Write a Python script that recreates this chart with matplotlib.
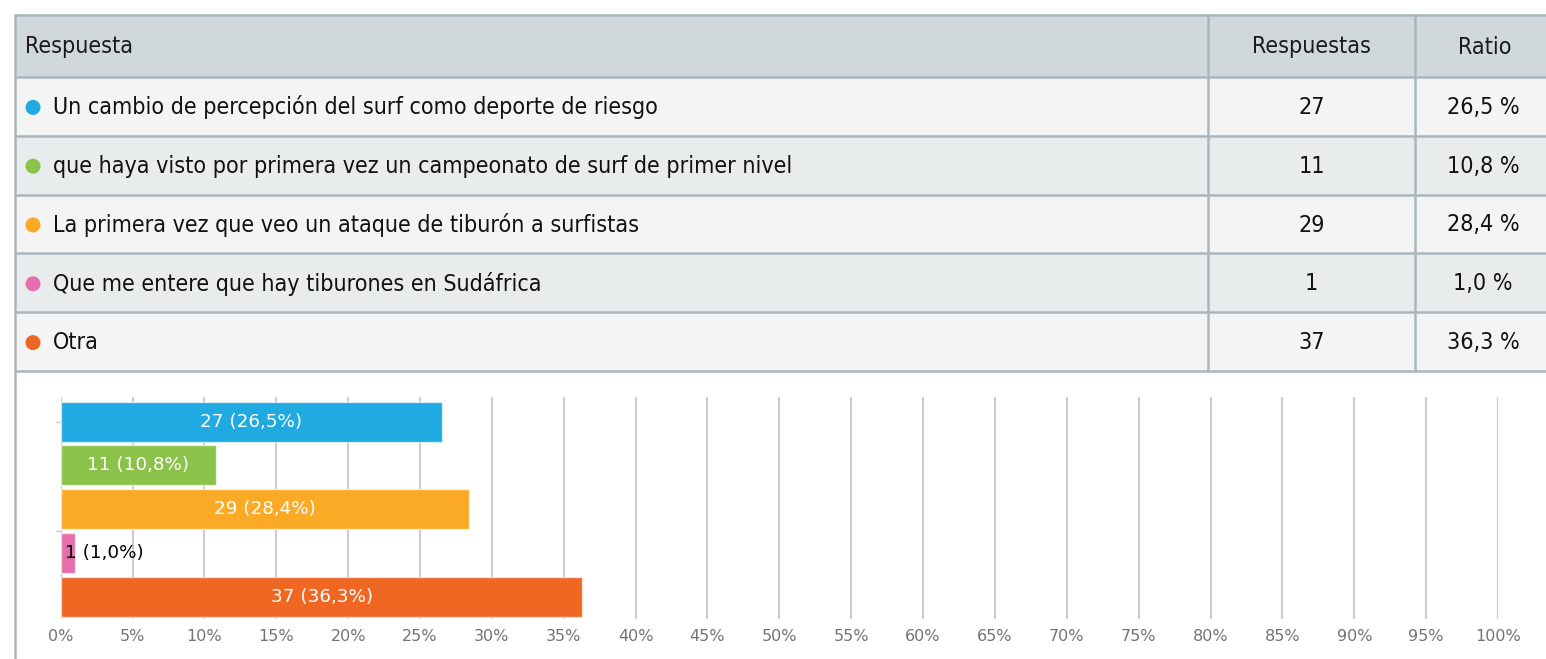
import matplotlib
matplotlib.use("Agg")
import matplotlib.pyplot as plt
from matplotlib import font_manager
from matplotlib.patches import Rectangle, Circle

# data
answers = [
    "Un cambio de percepción del surf como deporte de riesgo",
    "que haya visto por primera vez un campeonato de surf de primer nivel",
    "La primera vez que veo un ataque de tiburón a surfistas",
    "Que me entere que hay tiburones en Sudáfrica",
    "Otra",
]
counts = [27, 11, 29, 1, 37]
ratios = [26.5, 10.8, 28.4, 1.0, 36.3]
colors = ["#1FAAE1", "#8BC34A", "#FBAA25", "#E56EAD", "#F06724"]
headers = ["Respuesta", "Respuestas", "Ratio"]


def pick_narrow_font():
    # look for a condensed / narrow face, the table uses one
    wanted = ["liberationsansnarrow-regular", "notosans-condensed.", "dejavusanscondensed.",
              "roboto-condensed", "robotocondensed-regular"]
    files = [f.fname for f in font_manager.fontManager.ttflist]
    for w in wanted:
        for fn in files:
            if w in fn.lower().replace(" ", ""):
                return font_manager.FontProperties(fname=fn)
    return font_manager.FontProperties(family="Liberation Sans")


W, H = 1546, 659
fig = plt.figure(figsize=(W / 100, H / 100), dpi=100)
fig.patch.set_facecolor("white")

bg = fig.add_axes([0, 0, 1, 1])
bg.set_xlim(0, W)
bg.set_ylim(H, 0)
bg.axis("off")

fp = pick_narrow_font()
fp.set_size(16.7)

border = "#A8B7BF"
left, col1, col2 = 15, 1208, 1415
top, head_bot, row_h = 15, 77, 58.8
row_fill = ["#F4F4F4", "#E9ECED"]

# header
bg.add_patch(Rectangle((left, top), W - left, head_bot - top, facecolor="#D0D8DC", edgecolor="none"))
hy = (top + head_bot) / 2 + 1
bg.text(25, hy, headers[0], fontproperties=fp, color="#1a1a1a", ha="left", va="center")
bg.text((col1 + col2) / 2, hy, headers[1], fontproperties=fp, color="#1a1a1a", ha="center", va="center")
bg.text(1485, hy, headers[2], fontproperties=fp, color="#1a1a1a", ha="center", va="center")

for i, (ans, n, r, c) in enumerate(zip(answers, counts, ratios, colors)):
    y0 = head_bot + i * row_h
    bg.add_patch(Rectangle((left, y0), W - left, row_h, facecolor=row_fill[i % 2], edgecolor="none"))
    yc = y0 + row_h / 2 + 1
    bg.add_patch(Circle((33, yc), 7.5, facecolor=c, edgecolor="none"))
    bg.text(53, yc, ans, fontproperties=fp, color="#111111", ha="left", va="center")
    bg.text((col1 + col2) / 2, yc, f"{n}", fontproperties=fp, color="#111111", ha="center", va="center")
    bg.text(1483, yc, f"{r:.1f} %".replace(".", ","), fontproperties=fp, color="#111111",
            ha="center", va="center")

table_bot = head_bot + len(answers) * row_h
for k in range(len(answers) + 2):
    yy = top if k == 0 else head_bot + (k - 1) * row_h
    bg.plot([left, W], [yy, yy], color=border, lw=1.8, solid_capstyle="butt")
bg.plot([left, left], [top, H], color=border, lw=1.8)
for xx in (col1, col2):
    bg.plot([xx, xx], [top, table_bot], color=border, lw=1.8)

# bar chart
x0, x1 = 60.7, 1498
y_top, y_bot = 397, 619
ax = fig.add_axes([x0 / W, (H - y_bot) / H, (x1 - x0) / W, (y_bot - y_top) / H])
ax.patch.set_alpha(0)
pos = list(range(len(ratios)))
ax.barh(pos, ratios, height=0.914, color=colors, edgecolor=(1, 1, 1, 0.6), linewidth=1, zorder=2)
ax.set_xlim(0, 100)
ax.set_ylim(4.51, -0.565)
ax.set_xticks(range(0, 101, 5))
ax.set_xticklabels([f"{v}%" for v in range(0, 101, 5)], fontsize=11.5, color="#737373",
                   family="DejaVu Sans")
ax.tick_params(axis="x", length=0, pad=7)
ax.set_yticks([0, 2.5])
ax.set_yticklabels(["", ""])
ax.tick_params(axis="y", length=4.5, width=1, color="#C5D3E0")
ax.grid(axis="x", color="#CCCCCC", lw=1.5, zorder=0)
ax.set_axisbelow(True)
for s in ax.spines.values():
    s.set_visible(False)

for p, n, r in zip(pos, counts, ratios):
    lab = f"{n} ({r:.1f}%)".replace(".", ",")
    if r < 5:
        ax.text(0.3, p, lab, ha="left", va="center", color="black", fontsize=13.2, family="DejaVu Sans")
    else:
        ax.text(r / 2, p, lab, ha="center", va="center", color="white", fontsize=13.2, family="DejaVu Sans")

fig.savefig("out.png", dpi=100)
